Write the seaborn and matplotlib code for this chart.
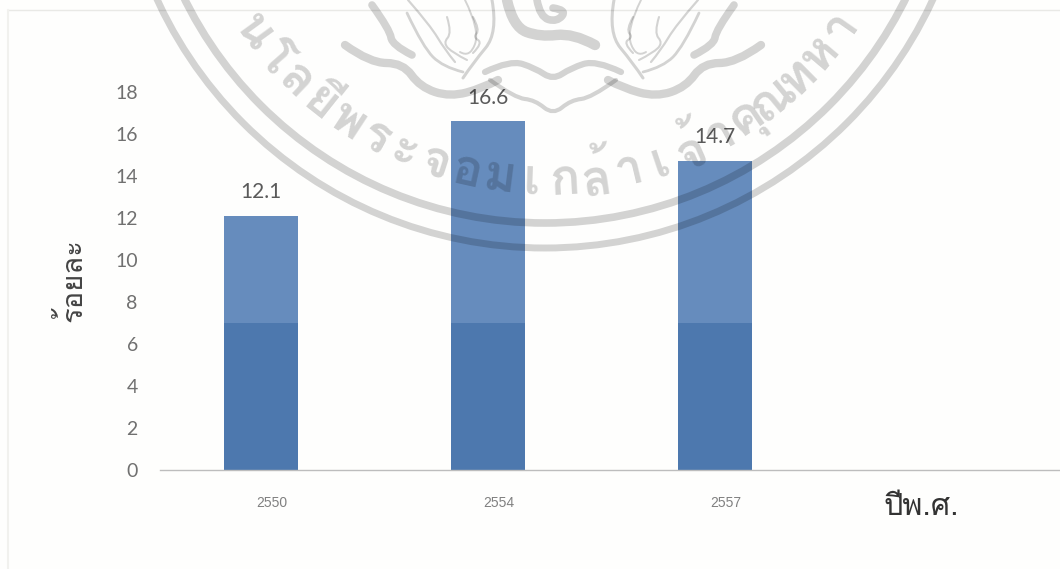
import matplotlib
matplotlib.use("Agg")
import matplotlib.pyplot as plt
from matplotlib.patches import Circle, PathPatch
from matplotlib.path import Path
from matplotlib.transforms import Affine2D, ScaledTranslation
import seaborn as sns
import pandas as pd
import numpy as np

years = ["2550", "2554", "2557"]
values = [12.1, 16.6, 14.7]
lower_band = [7, 7, 7]
x_title = "ปีพ.ศ."
y_title = "ร้อยละ"
seal_clusters = ["น", "โ", "ล", "ยี", "พ", "ร", "ะ", "จ", "อ", "ม", "เ", "ก", "ล้", "า",
                 "เ", "จ้", "า", "คุ", "ณ", "ท", "ห", "า"]

sns.set_theme(style="white")
W, H = 1060, 569
fig = plt.figure(figsize=(W / 100, H / 100), dpi=100, facecolor="#fefefd")
ax = fig.add_axes([160 / W, 1 - 470 / H, 900 / W, 378 / H])
ax.patch.set_alpha(0)

sns.barplot(data=pd.DataFrame({"year": years, "value": values}), x="year", y="value",
            color="#668cbd", saturation=1, width=0.33, linewidth=0, ax=ax)
sns.barplot(data=pd.DataFrame({"year": years, "value": lower_band}), x="year", y="value",
            color="#4d78ae", saturation=1, width=0.33, linewidth=0, ax=ax)
ax.set_xlim(-0.445, 3.52)
ax.set_ylim(0, 18)
ax.set_yticks(range(0, 19, 2))
for c in ["top", "right", "left"]:
    ax.spines[c].set_visible(False)
ax.spines["bottom"].set_color("#bdbdbd")
ax.spines["bottom"].set_linewidth(1)
ax.tick_params(axis="both", length=0)
ax.tick_params(axis="y", pad=16, labelsize=14, labelcolor="#707070")
ax.tick_params(axis="x", pad=19, labelsize=10, labelcolor="#808080")
for t in ax.get_yticklabels():
    t.set_fontfamily("Lato")
shift = ScaledTranslation(11 / 100, 0, fig.dpi_scale_trans)
for t in ax.get_xticklabels():
    t.set_fontfamily("Liberation Sans")
    t.set_transform(t.get_transform() + shift)

ax.bar_label(ax.containers[0], labels=[f"{v:.1f}" for v in values], padding=10,
             fontsize=15, color="#5a5a5a", family="Lato")

ax.set_xlabel(x_title, fontsize=22, color="#333333", family=["Loma", "DejaVu Sans"])
ax.xaxis.set_label_coords((921 - 160) / 900, -(507 - 470) / 378, transform=ax.transAxes)
ax.xaxis.label.set_verticalalignment("center")
ax.set_ylabel(y_title, fontsize=21, color="#444444", family=["Loma", "DejaVu Sans"])
ax.yaxis.set_label_coords((72 - 160) / 900, (470 - 280) / 378, transform=ax.transAxes)
ax.yaxis.label.set_verticalalignment("center")

# seal watermark, in image pixel coordinates
px = Affine2D().scale(1 / W, -1 / H).translate(0, 1) + fig.transFigure
stamp = dict(color="black", alpha=0.17)
cx, cy = 545, -179
for r, lw in [(402, 5.5), (427, 5.0)]:
    fig.add_artist(Circle((cx, cy), r, fill=False, transform=px, lw=lw, **stamp))

angles = np.linspace(-54, 55, len(seal_clusters))
for ch, a in zip(seal_clusters, angles):
    th = np.radians(a)
    r = 360
    fig.text((cx + r * np.sin(th)) / W, 1 - (cy + r * np.cos(th)) / H, ch,
             rotation=a, rotation_mode="anchor", ha="center", va="center",
             fontsize=36, family=["Loma", "DejaVu Sans"], weight="bold", **stamp)


def stroke(points, lw):
    pts = np.asarray(points, float)
    verts, codes = [pts[0]], [Path.MOVETO]
    for i in range(1, len(pts) - 1):
        end = pts[i + 1] if i == len(pts) - 2 else (pts[i] + pts[i + 1]) / 2
        verts += [pts[i], end]
        codes += [Path.CURVE3, Path.CURVE3]
    fig.add_artist(PathPatch(Path(verts, codes), fill=False, transform=px, lw=lw,
                             capstyle="round", joinstyle="round", **stamp))


axis_x = 553


def mirrored(seg):
    return [(2 * axis_x - x, y) for x, y in seg]


head_outer = [(492, 0), (498, 33), (473, 63), (463, 78)]
head_inner = [(465, 0), (480, 30), (470, 58), (460, 52)]
head_back = [(407, 13), (423, 47), (443, 67), (463, 72)]
head_jaw = [(408, 0), (430, 25), (445, 50), (455, 62)]
head_crest = [(372, 5), (390, 30), (392, 45), (412, 55)]
head_teeth = [(473, 17), (480, 30), (473, 37), (483, 43), (473, 53)]
head_flame = [(447, 17), (452, 33), (443, 43), (453, 53), (467, 60)]
wave = [(345, 45), (370, 63), (403, 63), (420, 87), (450, 97), (483, 88), (498, 80)]
for seg, lw in [(head_outer, 2.2), (head_inner, 1.4), (head_back, 2.0), (head_jaw, 1.6),
                (head_crest, 5.5), (head_teeth, 1.5), (head_flame, 1.5), (wave, 6.0)]:
    stroke(seg, lw)
    stroke(mirrored(seg), lw)
arc_top = [(485, 72), (510, 60), (535, 68), (553, 80)]
arc_low = [(490, 80), (515, 98), (535, 100), (553, 115)]
stroke(arc_top + mirrored(arc_top)[::-1][1:], 4.5)
stroke(arc_low + mirrored(arc_low)[::-1][1:], 3.0)
stroke([(507, 0), (513, 27), (540, 37), (573, 33), (595, 45)], 7.5)
stroke([(537, 0), (540, 17), (557, 22), (567, 10), (553, 8)], 5.5)

# scan edges of the page
fig.add_artist(plt.Line2D([8, 1060], [10, 10], transform=px, color="#e9e9e6", lw=1, zorder=0))
fig.add_artist(plt.Line2D([8, 8], [10, 569], transform=px, color="#f1f1ee", lw=1.5, zorder=0))

fig.savefig("out.png", dpi=100, facecolor=fig.get_facecolor())
